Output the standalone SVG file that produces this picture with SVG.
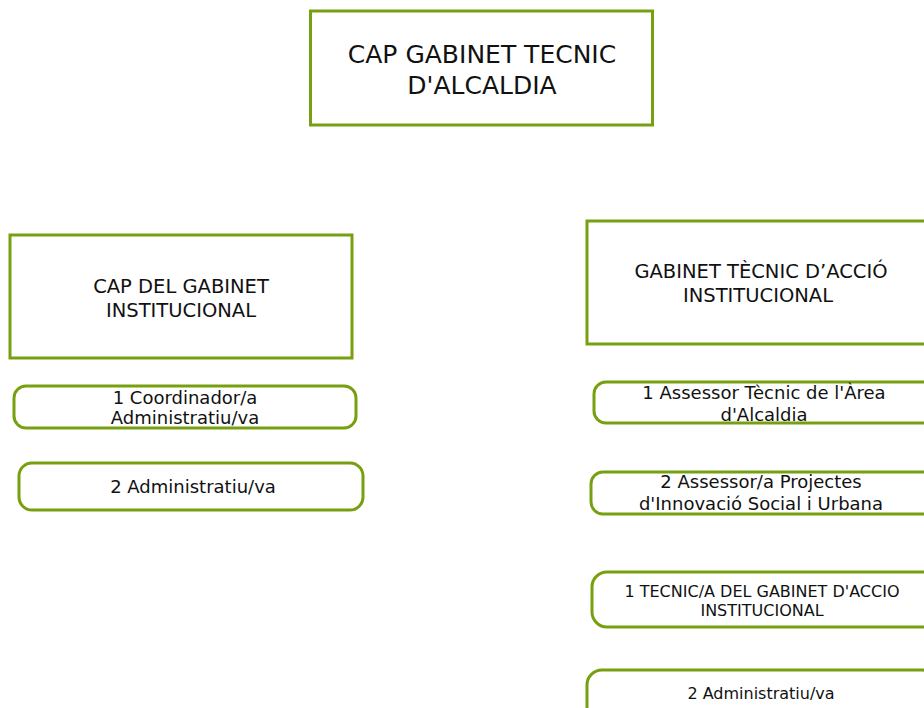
<svg xmlns="http://www.w3.org/2000/svg" width="924" height="708" viewBox="0 0 924 708">
<style>
.b{fill:#fff;stroke:#77A010;stroke-width:3}
text{font-family:"DejaVu Sans","Liberation Sans",sans-serif;fill:#111;text-anchor:middle}
.t1{font-size:25px}
.t2{font-size:19.5px}
.t3{font-size:18px}
.t4{font-size:16px}
</style>
<rect width="924" height="708" fill="#fff"/>
<g id="connectors"></g>
<g id="n-cap-gabinet">
<rect class="b" x="310.5" y="11" width="342" height="114"/>
<text class="t1" x="482" y="63">CAP GABINET TECNIC</text>
<text class="t1" x="482" y="94">D'ALCALDIA</text>
</g>
<g id="n-cap-institucional">
<rect class="b" x="10" y="235" width="342" height="123"/>
<text class="t2" x="181" y="293">CAP DEL GABINET</text>
<text class="t2" x="181" y="317">INSTITUCIONAL</text>
</g>
<g id="n-coordinador">
<rect class="b" x="14" y="386" width="342" height="42" rx="12"/>
<text class="t3" x="185" y="404">1 Coordinador/a</text>
<text class="t3" x="185" y="424">Administratiu/va</text>
</g>
<g id="n-admin-left">
<rect class="b" x="19" y="463" width="344" height="47" rx="13"/>
<text class="t3" x="193" y="493">2 Administratiu/va</text>
</g>
<g id="n-gabinet-accio">
<rect class="b" x="587" y="221" width="350" height="123"/>
<text class="t2" x="761" y="278">GABINET TÈCNIC D’ACCIÓ</text>
<text class="t2" x="758" y="302">INSTITUCIONAL</text>
</g>
<g id="n-assessor">
<rect class="b" x="594" y="382" width="350" height="41" rx="12"/>
<text class="t3" x="764" y="399">1 Assessor Tècnic de l'Àrea</text>
<text class="t3" x="764" y="421">d'Alcaldia</text>
</g>
<g id="n-assessor-projectes">
<rect class="b" x="591" y="472" width="350" height="42" rx="12"/>
<text class="t3" x="761" y="488">2 Assessor/a Projectes</text>
<text class="t3" x="761" y="510">d'Innovació Social i Urbana</text>
</g>
<g id="n-tecnic">
<rect class="b" x="592" y="572" width="350" height="55" rx="15"/>
<text class="t4" x="762" y="597">1 TECNIC/A DEL GABINET D'ACCIO</text>
<text class="t4" x="762" y="616">INSTITUCIONAL</text>
</g>
<g id="n-admin-right">
<rect class="b" x="587" y="670" width="350" height="55" rx="15"/>
<text class="t4" x="761" y="699">2 Administratiu/va</text>
</g>
</svg>
